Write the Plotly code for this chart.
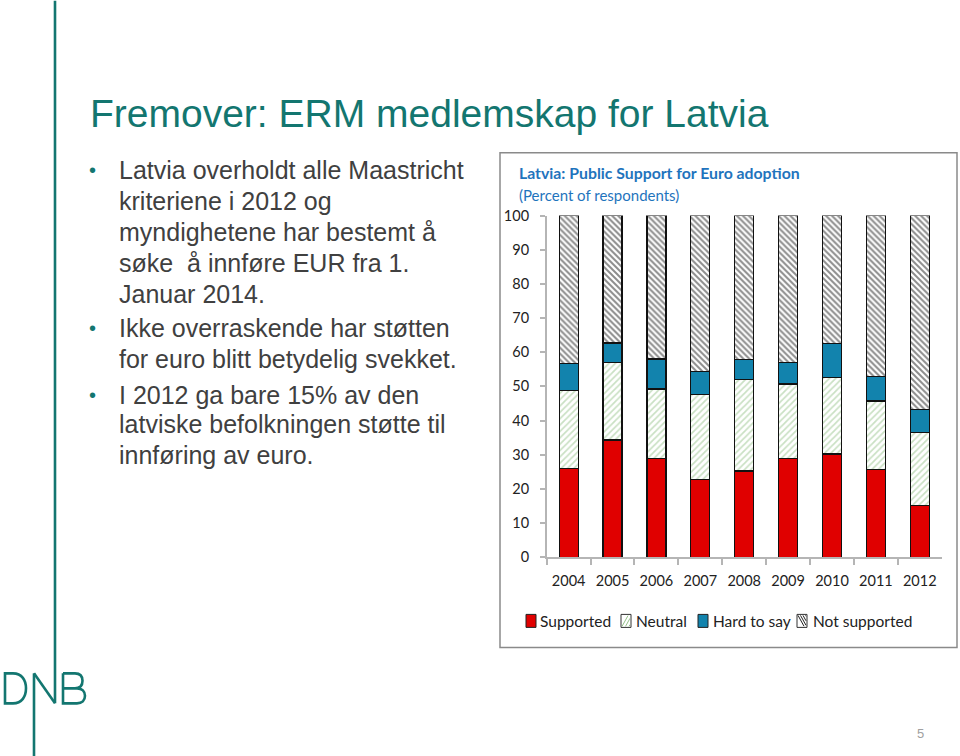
import plotly.graph_objects as go

# ---------------- data ----------------
years = ["2004", "2005", "2006", "2007", "2008", "2009", "2010", "2011", "2012"]
supported = [26.0, 34.3, 28.8, 22.8, 25.2, 28.8, 30.2, 25.7, 15.1]
neutral = [22.8, 22.7, 20.4, 24.7, 26.8, 21.9, 22.3, 20.0, 21.4]
hard_to_say = [7.8, 5.7, 8.8, 6.9, 5.8, 6.2, 10.1, 7.2, 6.7]
not_supported = [43.4, 37.3, 42.0, 45.6, 42.2, 43.1, 37.4, 47.1, 56.8]
y_ticks = [0, 10, 20, 30, 40, 50, 60, 70, 80, 90, 100]
legend_labels = ["Supported", "Neutral", "Hard to say", "Not supported"]

slide_title = "Fremover: ERM medlemskap for Latvia"
bullet_lines = [
    ("Latvia overholdt alle Maastricht", True),
    ("kriteriene i 2012 og", False),
    ("myndighetene har bestemt å", False),
    ("søke  å innføre EUR fra 1.", False),
    ("Januar 2014.", False),
    ("Ikke overraskende har støtten", True),
    ("for euro blitt betydelig svekket.", False),
    ("I 2012 ga bare 15% av den", True),
    ("latviske befolkningen støtte til", False),
    ("innføring av euro.", False),
]
chart_title = "Latvia: Public Support for Euro adoption"
chart_subtitle = "(Percent of respondents)"
page_number = "5"

# ---------------- style ----------------
W, H = 960, 756
TEAL = "#137670"
RED = "#e00000"
BLUE = "#1283ad"
GREEN_HATCH = "#94c288"
CHART_FONT = "Lato"
SLIDE_FONT = "Liberation Sans"

# the photographed page is slightly squeezed vertically; map target pixels back
Y_OFF, Y_SCALE = 8.3, 0.978


def px(x):
    return x / W


def py(y):
    return 1 - ((y - Y_OFF) / Y_SCALE) / H


fig = go.Figure()

bar_w = 0.433
line = dict(color="#111111", width=1.2)
fig.add_trace(go.Bar(x=years, y=supported, name=legend_labels[0], width=bar_w,
                     marker=dict(color=RED, line=line), showlegend=False))
fig.add_trace(go.Bar(x=years, y=neutral, name=legend_labels[1], width=bar_w,
                     marker=dict(color="white", line=line,
                                 pattern=dict(shape="/", fgcolor=GREEN_HATCH, bgcolor="white",
                                              size=4.5, solidity=0.38)), showlegend=False))
fig.add_trace(go.Bar(x=years, y=hard_to_say, name=legend_labels[2], width=bar_w,
                     marker=dict(color=BLUE, line=line), showlegend=False))
fig.add_trace(go.Bar(x=years, y=not_supported, name=legend_labels[3], width=bar_w,
                     marker=dict(color="white", line=line,
                                 pattern=dict(shape="\\", fgcolor="#1a1a1a", bgcolor="white",
                                              size=4.2, solidity=0.48)), showlegend=False))

axis_col = "#b5b5b5"
fig.update_layout(
    width=W, height=H,
    margin=dict(l=0, r=0, t=0, b=0),
    paper_bgcolor="white", plot_bgcolor="rgba(0,0,0,0)",
    barmode="stack", bargap=0.5,
    xaxis=dict(domain=[px(546.7), px(941.7)], type="category", range=[-0.5, 8.5],
               showline=True, linecolor=axis_col, linewidth=1.5,
               ticks="outside", tickson="boundaries", ticklen=6, tickcolor=axis_col, tickwidth=1.5,
               showgrid=False, zeroline=False, ticklabelstandoff=10,
               tickfont=dict(family=CHART_FONT, size=14.5, color="#222222")),
    yaxis=dict(domain=[py(556.7), py(215)], range=[0, 100], tickvals=y_ticks,
               showline=True, linecolor=axis_col, linewidth=1.5,
               ticks="outside", ticklen=5, tickcolor=axis_col, tickwidth=1.5,
               showgrid=False, zeroline=False, ticklabelstandoff=8,
               tickfont=dict(family=CHART_FONT, size=14.5, color="#222222")),
    showlegend=False,
)

shapes = []
annotations = []

# chart frame
shapes.append(dict(type="rect", xref="paper", yref="paper",
                   x0=px(500), x1=px(957), y0=py(152), y1=py(647),
                   line=dict(color="#8a8a8a", width=1.5), fillcolor="rgba(0,0,0,0)"))

# chart titles
annotations.append(dict(text="<b>" + chart_title + "</b>", x=px(517), y=py(172), xref="paper", yref="paper",
                        xanchor="left", yanchor="middle", showarrow=False,
                        font=dict(family=CHART_FONT, size=15.8, color="#1f74bd")))
annotations.append(dict(text=chart_subtitle, x=px(517), y=py(194), xref="paper", yref="paper",
                        xanchor="left", yanchor="middle", showarrow=False,
                        font=dict(family=CHART_FONT, size=15, color="#1f74bd")))

# manual legend
leg_y0, leg_y1 = 614, 627
sw = [(526, RED, "solid"), (621, "white", "neutral"), (698, BLUE, "solid"), (797, "white", "not")]
text_x = [538, 634, 711, 811]
for (x0, col, kind), tx, lab in zip(sw, text_x, legend_labels):
    x1 = x0 + 10
    shapes.append(dict(type="rect", xref="paper", yref="paper", x0=px(x0), x1=px(x1),
                       y0=py(leg_y1), y1=py(leg_y0), fillcolor=col,
                       line=dict(color="#333333" if kind != "solid" else "#222222", width=1)))
    if kind == "neutral":
        for k in range(3):
            a = x0 + 1 + k * 3.5
            b = min(a + 6, x1 - 1)
            shapes.append(dict(type="line", xref="paper", yref="paper",
                               x0=px(a), y0=py(leg_y1 - 1), x1=px(b), y1=py(leg_y1 - 1 - (b - a) * 1.8),
                               line=dict(color=GREEN_HATCH, width=1)))
    if kind == "not":
        for k in range(4):
            a = x0 + 1 + k * 2.5
            b = min(a + 6, x1 - 1)
            shapes.append(dict(type="line", xref="paper", yref="paper",
                               x0=px(a), y0=py(leg_y0 + 1), x1=px(b), y1=py(leg_y0 + 1 + (b - a) * 1.8),
                               line=dict(color="#222222", width=1)))
    annotations.append(dict(text=lab, x=px(tx), y=py(620.5), xref="paper", yref="paper",
                            xanchor="left", yanchor="middle", showarrow=False,
                            font=dict(family=CHART_FONT, size=15.5, color="#222222")))

# slide title
annotations.append(dict(text=slide_title, x=px(88), y=py(113), xref="paper", yref="paper",
                        xanchor="left", yanchor="middle", showarrow=False,
                        font=dict(family=SLIDE_FONT, size=39, color=TEAL)))

# bullet text
line_y = [168, 199, 230, 261, 292, 326, 357, 393, 423, 454]
for (txt, bullet), yy in zip(bullet_lines, line_y):
    annotations.append(dict(text=txt, x=px(117), y=py(yy + 1), xref="paper", yref="paper",
                            xanchor="left", yanchor="middle", showarrow=False,
                            font=dict(family=SLIDE_FONT, size=25, color="#404040")))
    if bullet:
        annotations.append(dict(text="•", x=px(92), y=py(yy + 1), xref="paper", yref="paper",
                                xanchor="center", yanchor="middle", showarrow=False,
                                font=dict(family=SLIDE_FONT, size=20, color=TEAL)))

# page number
annotations.append(dict(text=page_number, x=px(920), y=py(733), xref="paper", yref="paper",
                        xanchor="center", yanchor="middle", showarrow=False,
                        font=dict(family=SLIDE_FONT, size=13, color="#a0a0a0")))

# DNB logo + vertical teal line
lw = 2.6
shapes.append(dict(type="line", xref="paper", yref="paper", x0=px(55), x1=px(55), y0=py(0), y1=py(703),
                   line=dict(color=TEAL, width=lw)))
shapes.append(dict(type="line", xref="paper", yref="paper", x0=px(34), x1=px(34), y0=py(673), y1=py(756),
                   line=dict(color=TEAL, width=lw)))
shapes.append(dict(type="line", xref="paper", yref="paper", x0=px(34), x1=px(55), y0=py(673), y1=py(703),
                   line=dict(color=TEAL, width=lw)))


def pth(cmds):
    out = []
    for c in cmds:
        if isinstance(c, str):
            out.append(c)
        else:
            out.append(f"{px(c[0]):.5f},{py(c[1]):.5f}")
    return " ".join(out)


d_path = pth(["M", (5, 673), "L", (13, 673), "C", (22, 673), (26, 680), (26, 688),
              "C", (26, 696), (22, 703), (13, 703), "L", (5, 703), "Z"])
shapes.append(dict(type="path", xref="paper", yref="paper", path=d_path,
                   line=dict(color=TEAL, width=lw), fillcolor="rgba(0,0,0,0)"))
b_path = pth(["M", (63, 673), "L", (63, 703), "L", (77, 703),
              "C", (82, 703), (85, 700), (85, 695.5), "C", (85, 691), (82, 688), (77, 688), "L", (63, 688),
              "M", (63, 673), "L", (75, 673), "C", (80, 673), (82.5, 676), (82.5, 680.5),
              "C", (82.5, 685), (80, 688), (75, 688)])
shapes.append(dict(type="path", xref="paper", yref="paper", path=b_path,
                   line=dict(color=TEAL, width=lw), fillcolor="rgba(0,0,0,0)"))

fig.update_layout(shapes=shapes, annotations=annotations)
fig.write_html(
    "out.html",
    config={"displayModeBar": False},
    post_script="document.body.style.margin='0';document.body.style.overflow='hidden';",
)
